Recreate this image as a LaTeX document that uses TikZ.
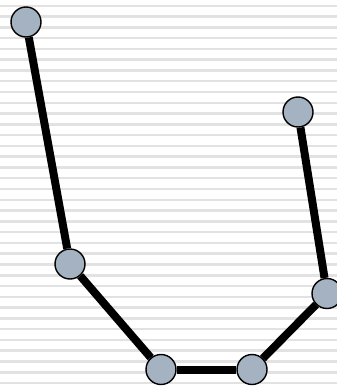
\documentclass[tikz,border=0pt]{standalone}
\definecolor{nodefill}{HTML}{A4B2C1}
\definecolor{stripe}{HTML}{E2E2E2}
\pgfdeclarelayer{stripes}
\pgfdeclarelayer{edges}
\pgfsetlayers{stripes,edges,main}
\tikzset{
  vert/.style={circle, draw=black, line width=1.4pt, fill=nodefill, minimum size=30pt, inner sep=0pt},
  edge/.style={line width=8pt, black},
}
\begin{document}
\begin{tikzpicture}[x=1pt,y=-1pt]
\useasboundingbox (0,0) rectangle (337,388);
\clip (0,0) rectangle (337,388);
\begin{pgfonlayer}{stripes}
\fill[white] (0,0) rectangle (337,388);
\foreach \k in {0,...,35} {
  \fill[stripe] (0,{4.5+10.78*\k}) rectangle (337,{7+10.78*\k});
}
\end{pgfonlayer}
\node[vert] (a) at (26,22) {};
\node[vert] (b) at (70,264) {};
\node[vert] (c) at (161,369.5) {};
\node[vert] (d) at (252,369.5) {};
\node[vert] (e) at (327,293.5) {};
\node[vert] (f) at (298,112) {};
\begin{pgfonlayer}{edges}
\draw[edge] (a) -- (b);
\draw[edge] (b) -- (c);
\draw[edge] (c) -- (d);
\draw[edge] (d) -- (e);
\draw[edge] (e) -- (f);
\end{pgfonlayer}
\end{tikzpicture}
\end{document}
